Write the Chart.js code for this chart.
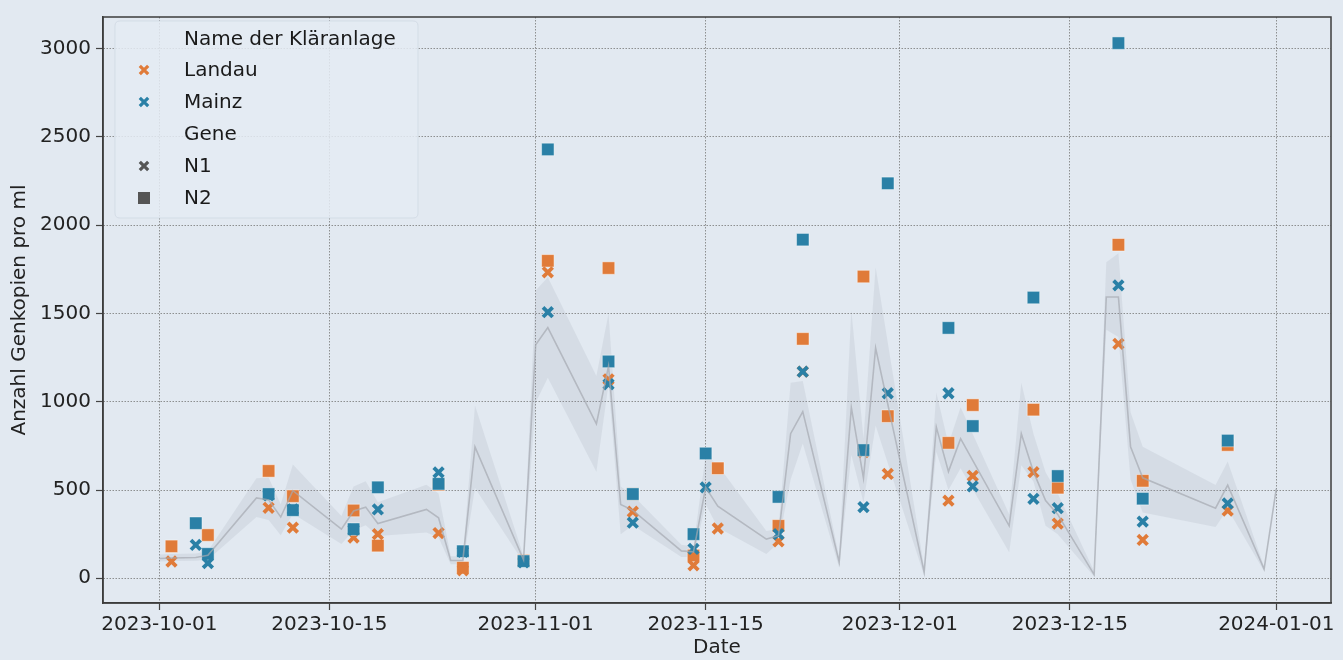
<!DOCTYPE html>
<html>
<head>
<meta charset="utf-8">
<script src="https://cdn.jsdelivr.net/npm/chart.js@4.4.1/dist/chart.umd.min.js"></script>
<style>
html,body{margin:0;padding:0;background:#e2e9f1;}
#wrap{width:1343px;height:660px;position:relative;}
</style>
</head>
<body>
<div id="wrap"><canvas id="c" width="1343" height="660"></canvas></div>
<script>
// ---- data ----
const xTickLabels = ['2023-10-01','2023-10-15','2023-11-01','2023-11-15','2023-12-01','2023-12-15','2024-01-01'];
const yTickValues = [0,500,1000,1500,2000,2500,3000];

const lineDates = ['2023-10-01','2023-10-02','2023-10-04','2023-10-05','2023-10-09','2023-10-10','2023-10-11','2023-10-12','2023-10-16','2023-10-17','2023-10-18','2023-10-19','2023-10-23','2023-10-24','2023-10-25','2023-10-26','2023-10-27','2023-10-31','2023-11-01','2023-11-02','2023-11-06','2023-11-07','2023-11-08','2023-11-09','2023-11-13','2023-11-14','2023-11-15','2023-11-16','2023-11-20','2023-11-21','2023-11-22','2023-11-23','2023-11-26','2023-11-27','2023-11-28','2023-11-29','2023-12-03','2023-12-04','2023-12-05','2023-12-06','2023-12-10','2023-12-11','2023-12-12','2023-12-13','2023-12-14','2023-12-17','2023-12-18','2023-12-19','2023-12-20','2023-12-21','2023-12-27','2023-12-28','2023-12-31','2024-01-01'];
const lineMean = [112,115,118,130,455,444,347,496,278,381,403,310,390,343,101,101,744,105,1323,1420,875,1201,418,385,155,150,515,409,222,241,819,944,91,968,567,1304,35,856,604,791,297,819,604,440,362,21,1593,1593,745,569,397,528,52,507];
const lineLow = [95,98,100,105,347,330,244,366,194,270,300,240,260,231,80,80,511,90,996,1136,604,1100,250,300,120,120,420,287,138,200,560,763,60,700,430,866,15,716,500,623,147,640,548,297,250,10,1407,1366,560,372,290,393,40,490];
const lineHigh = [135,138,140,155,567,571,420,645,353,520,549,430,530,480,125,125,978,125,1630,1705,1145,1500,520,470,190,180,700,642,268,280,1108,1117,120,1519,791,1761,60,1052,760,968,362,1108,819,600,480,40,1790,1841,940,745,528,662,65,525];

const landauN1Dates = ['2023-10-02','2023-10-10','2023-10-12','2023-10-17','2023-10-19','2023-10-24','2023-10-26','2023-10-31','2023-11-02','2023-11-07','2023-11-09','2023-11-14','2023-11-16','2023-11-21','2023-11-23','2023-11-28','2023-11-30','2023-12-05','2023-12-07','2023-12-12','2023-12-14','2023-12-19','2023-12-21','2023-12-28'];
const landauN1Values = [95,399,287,231,250,256,45,100,1733,1127,377,73,282,209,1170,715,591,440,580,601,310,1328,217,383];

const landauN2Dates = ['2023-10-02','2023-10-05','2023-10-10','2023-10-12','2023-10-17','2023-10-19','2023-10-24','2023-10-26','2023-10-31','2023-11-02','2023-11-07','2023-11-09','2023-11-14','2023-11-16','2023-11-21','2023-11-23','2023-11-28','2023-11-30','2023-12-05','2023-12-07','2023-12-12','2023-12-14','2023-12-19','2023-12-21','2023-12-28'];
const landauN2Values = [181,245,608,465,384,185,530,60,100,1798,1757,477,129,623,297,1356,1709,918,767,981,955,513,1889,552,755];

const mainzDates = ['2023-10-04','2023-10-05','2023-10-10','2023-10-12','2023-10-17','2023-10-19','2023-10-24','2023-10-26','2023-10-31','2023-11-02','2023-11-07','2023-11-09','2023-11-14','2023-11-15','2023-11-21','2023-11-23','2023-11-28','2023-11-30','2023-12-05','2023-12-07','2023-12-12','2023-12-14','2023-12-19','2023-12-21','2023-12-28'];
const mainzN1Values = [189,86,470,390,275,390,600,150,90,1507,1099,315,166,515,250,1170,403,1048,1048,520,450,397,1659,321,424];
const mainzN2Values = [312,138,477,386,278,515,535,153,97,2429,1228,477,250,707,461,1918,726,2237,1418,862,1590,579,3031,451,780];

// ---- helpers ----
const DAY = 86400000;
const toMs = s => Date.UTC(+s.slice(0,4), +s.slice(5,7)-1, +s.slice(8,10));
const pts = (d, v) => d.map((s,i) => ({x: toMs(s), y: v[i]}));
const fmt = ms => { const d = new Date(ms); const p = n => String(n).padStart(2,'0'); return d.getUTCFullYear()+'-'+p(d.getUTCMonth()+1)+'-'+p(d.getUTCDate()); };

const ORANGE = '#e07b39';
const BLUE = '#2a80a6';
const GREY = '#555555';
const FONT = '"DejaVu Sans", "Liberation Sans", sans-serif';
Chart.defaults.font.family = FONT;
Chart.defaults.color = '#222';

const xMin = toMs('2023-09-26') + 0.36*DAY;
const xMax = toMs('2024-01-05') + 0.51*DAY;

function scatterDs(label, data, color, isX, order){
  return {
    type: 'scatter', label, data, order,
    pointStyle: isX ? 'crossRot' : 'rect',
    pointRadius: isX ? 6.8 : 8.8,
    pointBackgroundColor: color,
    pointBorderColor: isX ? color : 'rgba(255,255,255,0.55)',
    pointBorderWidth: isX ? 3.8 : 0.8,
    showLine: false
  };
}

const boxPlugin = {
  id: 'box',
  afterDraw(chart){
    const {ctx, chartArea: a} = chart;
    ctx.save();
    ctx.strokeStyle = '#3d3d3d';
    ctx.lineWidth = 1.5;
    ctx.strokeRect(a.left, a.top, a.right - a.left, a.bottom - a.top);
    // legend
    const bx = 115, by = 21, bw = 303, bh = 197, r = 5;
    ctx.beginPath();
    ctx.moveTo(bx+r, by); ctx.lineTo(bx+bw-r, by); ctx.quadraticCurveTo(bx+bw, by, bx+bw, by+r);
    ctx.lineTo(bx+bw, by+bh-r); ctx.quadraticCurveTo(bx+bw, by+bh, bx+bw-r, by+bh);
    ctx.lineTo(bx+r, by+bh); ctx.quadraticCurveTo(bx, by+bh, bx, by+bh-r);
    ctx.lineTo(bx, by+r); ctx.quadraticCurveTo(bx, by, bx+r, by);
    ctx.closePath();
    ctx.fillStyle = 'rgba(228,235,243,0.85)';
    ctx.fill();
    ctx.strokeStyle = 'rgba(210,218,228,0.9)';
    ctx.lineWidth = 1;
    ctx.stroke();
    ctx.font = '20px ' + FONT;
    ctx.fillStyle = '#1a1a1a';
    ctx.textBaseline = 'middle';
    ctx.textAlign = 'left';
    const tx = 184, mx = 144;
    const rows = [
      {t:'Name der Kläranlage', y:39},
      {t:'Landau', y:70, m:'x', c:ORANGE},
      {t:'Mainz', y:102, m:'x', c:BLUE},
      {t:'Gene', y:134},
      {t:'N1', y:166, m:'x', c:GREY},
      {t:'N2', y:198, m:'s', c:GREY}
    ];
    rows.forEach(rw => {
      ctx.fillStyle = '#1a1a1a';
      ctx.fillText(rw.t, tx, rw.y + 1);
      if (rw.m === 'x') {
        ctx.strokeStyle = rw.c; ctx.lineWidth = 3.2;
        const h = 4.2;
        ctx.beginPath();
        ctx.moveTo(mx-h, rw.y-h); ctx.lineTo(mx+h, rw.y+h);
        ctx.moveTo(mx-h, rw.y+h); ctx.lineTo(mx+h, rw.y-h);
        ctx.stroke();
      } else if (rw.m === 's') {
        ctx.fillStyle = rw.c;
        ctx.fillRect(mx-6, rw.y-6, 12, 12);
      }
    });
    ctx.restore();
  }
};

const gridOpts = { color: 'rgba(120,120,120,0.8)', lineWidth: 1, tickLength: 7, tickColor: '#444', tickBorderDash: [], tickWidth: 1.2 };
const borderOpts = { display: true, color: '#3d3d3d', width: 1.5, dash: [1.5,1.5] };

new Chart(document.getElementById('c'), {
  data: {
    datasets: [
      {
        type: 'line', label: 'ci-high', data: pts(lineDates, lineHigh), order: 20,
        borderWidth: 0, pointRadius: 0, fill: '+1',
        backgroundColor: 'rgba(125,135,150,0.12)', tension: 0
      },
      {
        type: 'line', label: 'ci-low', data: pts(lineDates, lineLow), order: 19,
        borderWidth: 0, pointRadius: 0, fill: false, tension: 0
      },
      scatterDs('Landau N2', pts(landauN2Dates, landauN2Values), ORANGE, false, 8),
      scatterDs('Landau N1', pts(landauN1Dates, landauN1Values), ORANGE, true, 7),
      scatterDs('Mainz N2', pts(mainzDates, mainzN2Values), BLUE, false, 6),
      scatterDs('Mainz N1', pts(mainzDates, mainzN1Values), BLUE, true, 5),
      {
        type: 'line', label: 'mean', data: pts(lineDates, lineMean), order: 1,
        borderColor: 'rgba(165,170,176,0.7)', borderWidth: 1.6, pointRadius: 0,
        fill: false, tension: 0
      }
    ]
  },
  options: {
    responsive: false,
    animation: false,
    events: [],
    layout: { padding: { top: 10, right: 12, left: 0, bottom: 0 } },
    plugins: { legend: { display: false }, tooltip: { enabled: false } },
    scales: {
      x: {
        type: 'linear', min: xMin, max: xMax,
        afterBuildTicks: ax => { ax.ticks = xTickLabels.map(s => ({value: toMs(s)})); },
        afterFit: ax => { ax.height = 57; },
        ticks: { callback: v => fmt(v), font: { size: 20 }, color: '#222', padding: 3, maxRotation: 0, autoSkip: false },
        grid: gridOpts,
        border: borderOpts,
        title: { display: true, text: 'Date', font: { size: 20 }, color: '#222', padding: { top: 0, bottom: 0 } }
      },
      y: {
        type: 'linear', min: -140, max: 3179,
        afterBuildTicks: ax => { ax.ticks = yTickValues.map(v => ({value: v})); },
        afterFit: ax => { ax.width = 103; },
        ticks: { callback: v => String(v), font: { size: 20 }, color: '#222', padding: 5 },
        grid: gridOpts,
        border: borderOpts,
        title: { display: true, text: 'Anzahl Genkopien pro ml', font: { size: 20 }, color: '#222', padding: { top: 8, bottom: 0 } }
      }
    }
  },
  plugins: [boxPlugin]
});
</script>
</body>
</html>
